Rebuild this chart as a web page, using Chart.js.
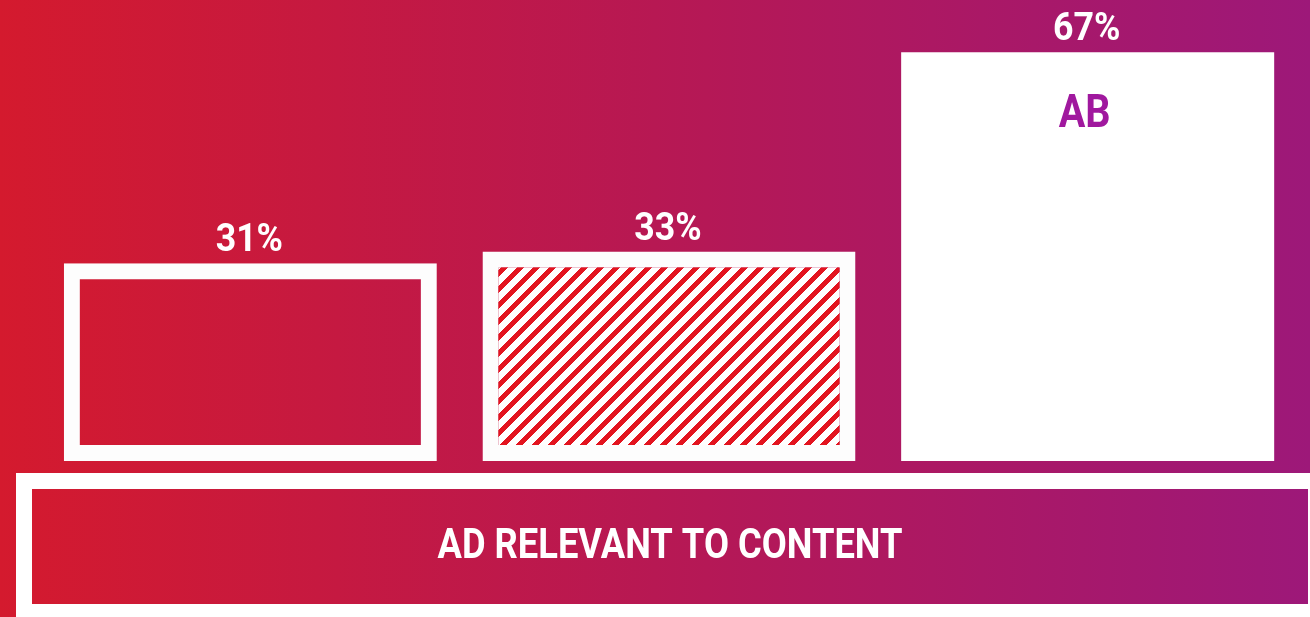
<!DOCTYPE html>
<html>
<head>
<meta charset="utf-8">
<script src="https://cdn.jsdelivr.net/npm/chart.js@4"></script>
<style>
  html, body { margin: 0; padding: 0; overflow: hidden; background: #b71853; }
  #wrap { width: 1310px; height: 617px; }
</style>
</head>
<body>
<div id="wrap"><canvas id="chart" width="1310" height="617"></canvas></div>
<script>
// Chart data
const categories = ['', '', 'AB'];
const values = [31, 33, 67];
const valueSuffix = '%';
const axisTitle = 'AD RELEVANT TO CONTENT';

// Value axis range (bars start a little below zero so their frame sits under the baseline)
const yMin = -2.73;
const yMax = 75.93;

const canvas = document.getElementById('chart');
const ctx = canvas.getContext('2d');

function makeGradient(c, width) {
  const g = c.createLinearGradient(0, 0, width, 0);
  g.addColorStop(0, '#d41a2e');
  g.addColorStop(0.5, '#b71853');
  g.addColorStop(1, '#9d1879');
  return g;
}

// Red/white diagonal stripes, drawn pixel by pixel for crisp edges
function makeHatch() {
  const size = 16;
  const tile = document.createElement('canvas');
  tile.width = size; tile.height = size;
  const t = tile.getContext('2d');
  t.fillStyle = '#ffffff';
  t.fillRect(0, 0, size, size);
  t.fillStyle = '#e3141f';
  for (let y = 0; y < size; y++) {
    for (let x = 0; x < size; x++) {
      if ((x + y) % size < 7) t.fillRect(x, y, 1, 1);
    }
  }
  return ctx.createPattern(tile, 'repeat');
}

function drawScaledText(c, text, x, y, sx) {
  c.save();
  c.translate(x, y);
  c.scale(sx, 1);
  c.fillText(text, 0, 0);
  c.restore();
}

const backdrop = {
  id: 'backdrop',
  beforeDraw(chart) {
    const c = chart.ctx;
    const w = chart.width, h = chart.height;
    c.save();
    c.fillStyle = makeGradient(c, w);
    c.fillRect(0, 0, w, h);
    c.restore();
  }
};

const captionBox = {
  id: 'captionBox',
  afterDraw(chart) {
    const c = chart.ctx;
    const w = chart.width;
    const top = chart.chartArea.bottom + 12;
    c.save();
    c.fillStyle = '#ffffff';
    c.fillRect(16, top, w - 16, chart.height - top);
    c.fillStyle = makeGradient(c, w);
    c.fillRect(32, top + 16, w - 34, 115);
    c.fillStyle = '#ffffff';
    c.font = 'bold 42px Roboto';
    c.textAlign = 'center';
    c.textBaseline = 'alphabetic';
    const tw = c.measureText(axisTitle).width;
    drawScaledText(c, axisTitle, 670, top + 85, 465 / tw);
    c.restore();
  }
};

const barLabels = {
  id: 'barLabels',
  afterDatasetsDraw(chart) {
    const c = chart.ctx;
    const meta = chart.getDatasetMeta(0);
    c.save();
    c.textAlign = 'center';
    c.textBaseline = 'alphabetic';
    meta.data.forEach((bar, i) => {
      c.fillStyle = '#ffffff';
      c.font = 'bold 38px Roboto';
      drawScaledText(c, values[i] + valueSuffix, bar.x - 1, bar.y - 12, 0.94);
      const name = chart.data.labels[i];
      if (name) {
        c.fillStyle = '#a0189e';
        c.font = 'bold 46px Roboto';
        drawScaledText(c, name, bar.x - 3, bar.y + 75, 0.86);
      }
    });
    c.restore();
  }
};

new Chart(ctx, {
  type: 'bar',
  data: {
    labels: categories,
    datasets: [{
      data: values,
      base: yMin,
      backgroundColor: ['rgba(0,0,0,0)', makeHatch(), '#ffffff'],
      borderColor: '#fdfdfd',
      borderWidth: [16, 16, 0],
      borderSkipped: false,
      categoryPercentage: 1,
      barPercentage: 0.891
    }]
  },
  options: {
    responsive: false,
    devicePixelRatio: 1,
    animation: false,
    layout: { padding: { left: 41, right: 13, top: 0, bottom: 156 } },
    plugins: {
      legend: { display: false },
      tooltip: { enabled: false }
    },
    scales: {
      x: { display: false },
      y: { display: false, min: yMin, max: yMax }
    }
  },
  plugins: [backdrop, barLabels, captionBox]
});
</script>
</body>
</html>
